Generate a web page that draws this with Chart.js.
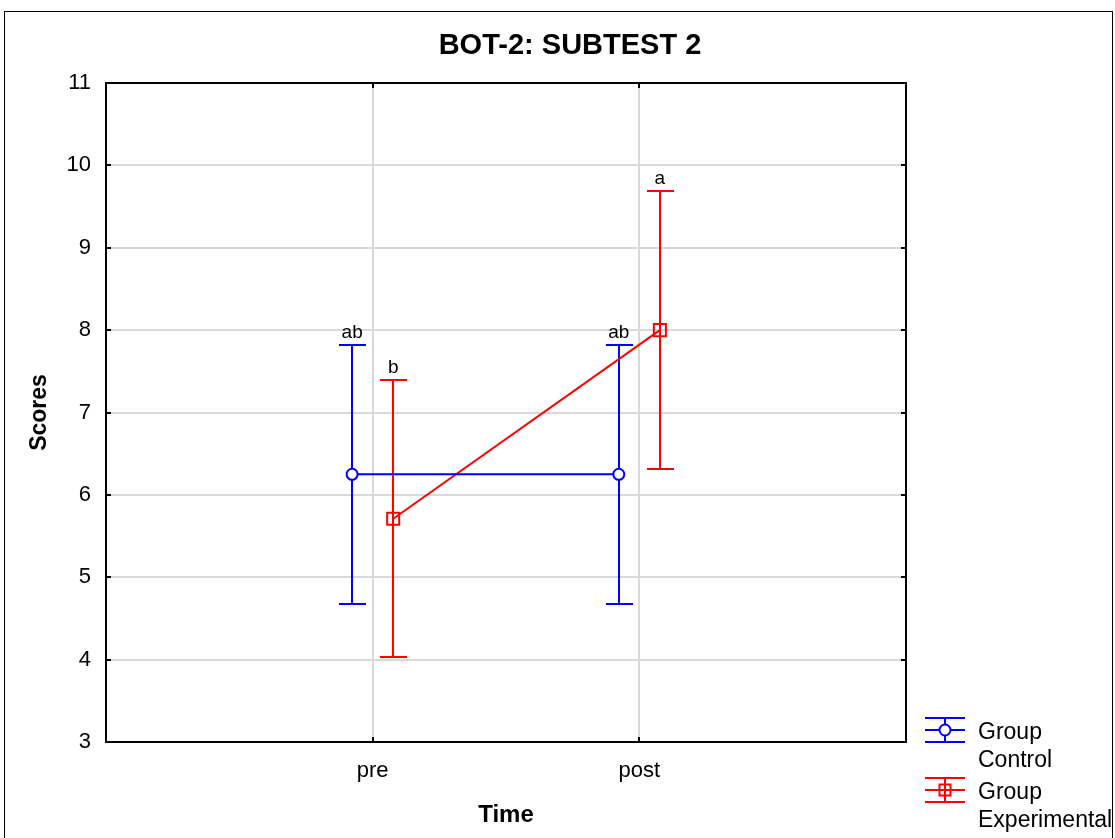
<!DOCTYPE html>
<html>
<head>
<meta charset="utf-8">
<title>BOT-2: SUBTEST 2</title>
<script src="https://cdn.jsdelivr.net/npm/chart.js@4.4.1/dist/chart.umd.min.js"></script>
<style>
  html, body { margin: 0; padding: 0; background: #fff; }
  #wrap { position: relative; width: 1115px; height: 838px; }
  #frame { position: absolute; left: 4px; top: 11px; width: 1109px; height: 840px;
           border: 1px solid #000; box-sizing: border-box; pointer-events: none; }
  canvas { display: block; }
</style>
</head>
<body>
<div id="wrap">
  <canvas id="c" width="1115" height="838"></canvas>
  <div id="frame"></div>
</div>
<script>
// Time points and group results (means with error-bar half-widths)
const timeLabels = ['pre', 'post'];
const timePositions = [1, 2];
const groupNames = [['Group', 'Control'], ['Group', 'Experimental']];
const controlMeans = [6.25, 6.25];
const controlErrors = [1.57, 1.57];
const experimentalMeans = [5.71, 8.0];
const experimentalErrors = [1.68, 1.69];
const controlLetters = ['ab', 'ab'];
const experimentalLetters = ['b', 'a'];
const yTicks = [3, 4, 5, 6, 7, 8, 9, 10, 11];

const groupOffset = 0.077;
const font = '"Liberation Sans", Arial, sans-serif';

function points(means, shift) {
  return means.map((m, i) => ({ x: timePositions[i] + shift, y: m }));
}

const datasets = [
  {
    label: groupNames[0].join(' '),
    data: points(controlMeans, -groupOffset),
    errors: controlErrors,
    letters: controlLetters,
    borderColor: '#0000ff',
    backgroundColor: '#ffffff',
    borderWidth: 2,
    pointStyle: 'circle',
    pointRadius: 5.5,
    pointBorderWidth: 2,
    showLine: true,
    tension: 0
  },
  {
    label: groupNames[1].join(' '),
    data: points(experimentalMeans, groupOffset),
    errors: experimentalErrors,
    letters: experimentalLetters,
    borderColor: '#ff0000',
    backgroundColor: 'rgba(0,0,0,0)',
    borderWidth: 2,
    pointStyle: 'rect',
    pointRadius: 8.5,
    pointBorderWidth: 2,
    showLine: true,
    tension: 0
  }
];

// Error bars with caps and significance letters above the upper cap
const errorBars = {
  id: 'errorBars',
  beforeDatasetsDraw(chart) {
    const { ctx, scales: { x, y } } = chart;
    ctx.save();
    chart.data.datasets.forEach(ds => {
      ctx.strokeStyle = ds.borderColor;
      ctx.lineWidth = 2;
      ds.data.forEach((p, i) => {
        const px = Math.round(x.getPixelForValue(p.x));
        const top = Math.round(y.getPixelForValue(p.y + ds.errors[i]));
        const bot = Math.round(y.getPixelForValue(p.y - ds.errors[i]));
        ctx.beginPath();
        ctx.moveTo(px, top); ctx.lineTo(px, bot);
        ctx.moveTo(px - 13, top); ctx.lineTo(px + 14, top);
        ctx.moveTo(px - 13, bot); ctx.lineTo(px + 14, bot);
        ctx.stroke();
      });
    });
    ctx.restore();
  },
  afterDatasetsDraw(chart) {
    const { ctx, scales: { x, y } } = chart;
    ctx.save();
    ctx.fillStyle = '#000';
    ctx.font = '19px ' + font;
    ctx.textAlign = 'center';
    ctx.textBaseline = 'alphabetic';
    chart.data.datasets.forEach(ds => {
      ds.data.forEach((p, i) => {
        const px = x.getPixelForValue(p.x);
        const top = y.getPixelForValue(p.y + ds.errors[i]);
        ctx.fillText(ds.letters[i], px, top - 7);
      });
    });
    ctx.restore();
  }
};

// Plot frame, inward tick marks, chart title and legend
const decorations = {
  id: 'decorations',
  afterDraw(chart) {
    const { ctx, chartArea: a, scales: { x, y } } = chart;
    ctx.save();
    ctx.strokeStyle = '#000';
    ctx.lineWidth = 2;
    ctx.strokeRect(a.left, a.top, a.right - a.left, a.bottom - a.top);
    ctx.beginPath();
    yTicks.forEach(v => {
      const py = Math.round(y.getPixelForValue(v));
      ctx.moveTo(a.left, py); ctx.lineTo(a.left + 5, py);
      ctx.moveTo(a.right, py); ctx.lineTo(a.right - 5, py);
    });
    timePositions.forEach(v => {
      const px = Math.round(x.getPixelForValue(v));
      ctx.moveTo(px, a.bottom); ctx.lineTo(px, a.bottom - 5);
      ctx.moveTo(px, a.top); ctx.lineTo(px, a.top + 5);
    });
    ctx.stroke();

    ctx.fillStyle = '#000';
    ctx.font = 'bold 29px ' + font;
    ctx.textAlign = 'center';
    ctx.textBaseline = 'middle';
    ctx.fillText('BOT-2: SUBTEST 2', 570, 46);

    // legend
    const lx = 925, lw = 40;
    const rows = [730, 790];
    chart.data.datasets.forEach((ds, k) => {
      const cy = rows[k];
      ctx.strokeStyle = ds.borderColor;
      ctx.lineWidth = 2;
      ctx.beginPath();
      ctx.moveTo(lx, cy - 12); ctx.lineTo(lx + lw, cy - 12);
      ctx.moveTo(lx, cy); ctx.lineTo(lx + lw, cy);
      ctx.moveTo(lx, cy + 12); ctx.lineTo(lx + lw, cy + 12);
      ctx.moveTo(lx + lw / 2, cy - 12); ctx.lineTo(lx + lw / 2, cy + 12);
      ctx.stroke();
      const cx = lx + lw / 2;
      if (ds.pointStyle === 'circle') {
        ctx.fillStyle = '#fff';
        ctx.beginPath(); ctx.arc(cx, cy, 5.5, 0, Math.PI * 2); ctx.fill(); ctx.stroke();
      } else {
        ctx.strokeRect(cx - 5.5, cy - 5.5, 11, 11);
      }
      ctx.fillStyle = '#000';
      ctx.font = '23px ' + font;
      ctx.textAlign = 'left';
      ctx.textBaseline = 'middle';
      ctx.fillText(groupNames[k][0], 978, cy + 3);
      ctx.fillText(groupNames[k][1], 978, cy + 31);
    });
    ctx.restore();
  }
};

new Chart(document.getElementById('c'), {
  type: 'scatter',
  data: { datasets },
  plugins: [errorBars, decorations],
  options: {
    responsive: false,
    animation: false,
    layout: { padding: { top: 83, right: 209, bottom: 0, left: 0 } },
    plugins: { legend: { display: false }, title: { display: false }, tooltip: { enabled: false } },
    scales: {
      x: {
        type: 'linear',
        min: 0, max: 3,
        afterFit(s) { s.height = 96; },
        afterBuildTicks(s) { s.ticks = timePositions.map(v => ({ value: v })); },
        ticks: {
          callback: v => timeLabels[timePositions.indexOf(v)] ?? '',
          color: '#000',
          font: { family: font, size: 22 },
          padding: 16,
          maxRotation: 0
        },
        grid: { color: '#d9d9d9', lineWidth: 2, drawTicks: false },
        border: { display: false },
        title: {
          display: true, text: 'Time', color: '#000',
          font: { family: font, size: 24, weight: 'bold' },
          padding: { top: 0, bottom: 8 }
        }
      },
      y: {
        min: 3, max: 11,
        afterFit(s) { s.width = 106; },
        afterBuildTicks(s) { s.ticks = yTicks.map(v => ({ value: v })); },
        ticks: {
          color: '#000',
          font: { family: font, size: 22 },
          padding: 15
        },
        grid: { color: '#d9d9d9', lineWidth: 2, drawTicks: false },
        border: { display: false },
        title: {
          display: true, text: 'Scores', color: '#000',
          font: { family: font, size: 23, weight: 'bold' },
          padding: { top: 26, bottom: 0 }
        }
      }
    }
  }
});
</script>
</body>
</html>
